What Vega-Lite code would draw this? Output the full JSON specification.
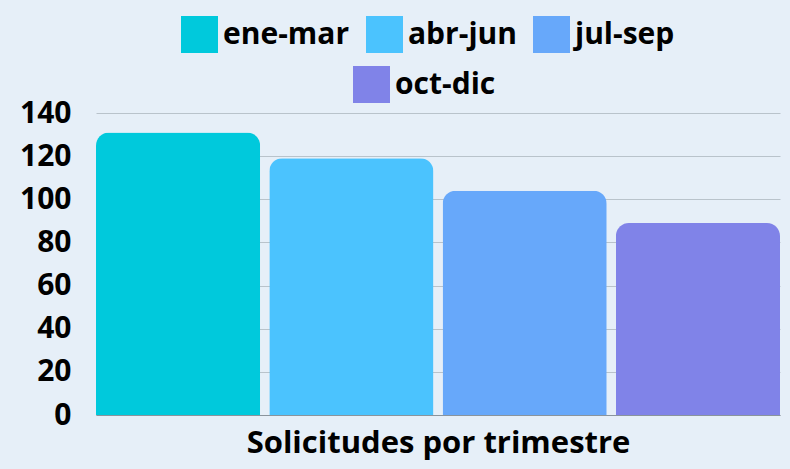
{
  "$schema": "https://vega.github.io/schema/vega-lite/v6.json",
  "width": 684,
  "height": 302,
  "autosize": "none",
  "padding": {"left": 96, "top": 113, "right": 10, "bottom": 54},
  "background": "#e6eff8",
  "config": {
    "view": {"stroke": null},
    "font": "Open Sans",
    "legend": {"labelFont": "Open Sans"}
  },
  "data": {
    "values": [
      {"trimestre": "ene-mar", "solicitudes": 131},
      {"trimestre": "abr-jun", "solicitudes": 119},
      {"trimestre": "jul-sep", "solicitudes": 104},
      {"trimestre": "oct-dic", "solicitudes": 89}
    ]
  },
  "encoding": {
    "x": {
      "field": "trimestre",
      "type": "nominal",
      "sort": null,
      "scale": {"domain": ["ene-mar", "abr-jun", "jul-sep", "oct-dic"], "paddingInner": 0.053, "paddingOuter": 0},
      "axis": {
        "title": "Solicitudes por trimestre",
        "titleFontSize": 31,
        "titleFontWeight": "bold",
        "titleColor": "#000000",
        "titlePadding": 13,
        "labels": false,
        "ticks": false,
        "domain": true,
        "domainColor": "#8a949c",
        "domainWidth": 1
      }
    },
    "y": {
      "field": "solicitudes",
      "type": "quantitative",
      "scale": {"domain": [0, 140], "nice": false},
      "axis": {
        "title": null,
        "values": [0, 20, 40, 60, 80, 100, 120, 140],
        "labelFontSize": 30,
        "labelFontWeight": "bold",
        "labelColor": "#000000",
        "labelPadding": 25,
        "ticks": false,
        "domain": false,
        "grid": true,
        "gridColor": "#b9c3cb",
        "gridWidth": 1.2
      }
    }
  },
  "layer": [
    {
      "transform": [{"filter": "datum.trimestre != 'oct-dic'"}],
      "mark": {"type": "bar", "cornerRadiusTopLeft": 13, "cornerRadiusTopRight": 13},
      "encoding": {
        "color": {
          "field": "trimestre",
          "type": "nominal",
          "sort": null,
          "scale": {"domain": ["ene-mar", "abr-jun", "jul-sep"], "range": ["#00c9dc", "#4bc3fe", "#67a8fa"]},
          "legend": {
            "title": null,
            "orient": "none",
            "direction": "horizontal",
            "legendX": 85,
            "legendY": -97,
            "symbolType": "square",
            "symbolSize": 1369,
            "symbolStrokeWidth": 0,
            "symbolOpacity": 1,
            "labelFontSize": 30,
            "labelFontWeight": "bold",
            "labelColor": "#000000",
            "labelOffset": 5,
            "columnPadding": 16,
            "labelLimit": 300
          }
        }
      }
    },
    {
      "transform": [{"filter": "datum.trimestre == 'oct-dic'"}],
      "mark": {"type": "bar", "cornerRadiusTopLeft": 13, "cornerRadiusTopRight": 13},
      "encoding": {
        "fill": {
          "field": "trimestre",
          "type": "nominal",
          "scale": {"domain": ["oct-dic"], "range": ["#8083e8"]},
          "legend": {
            "title": null,
            "orient": "none",
            "direction": "horizontal",
            "legendX": 257,
            "legendY": -47,
            "symbolType": "square",
            "symbolSize": 1369,
            "symbolStrokeWidth": 0,
            "symbolOpacity": 1,
            "labelFontSize": 30,
            "labelFontWeight": "bold",
            "labelColor": "#000000",
            "labelOffset": 5,
            "labelLimit": 300
          }
        }
      }
    }
  ]
}
